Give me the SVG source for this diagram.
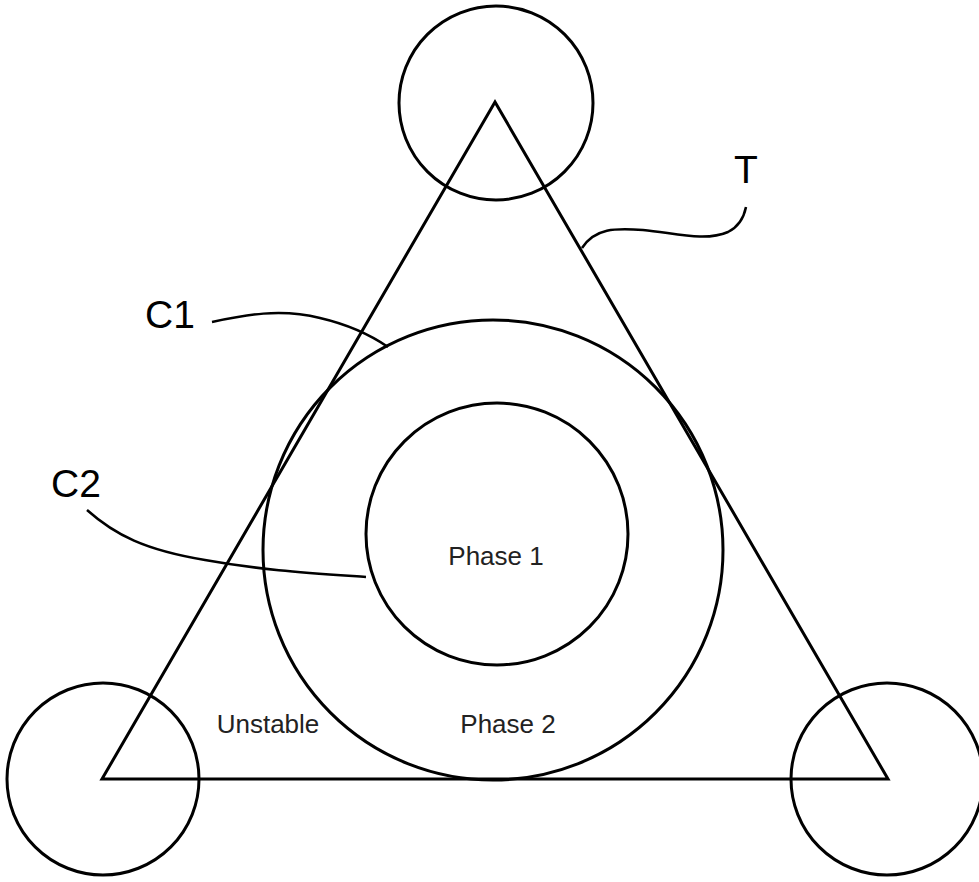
<svg xmlns="http://www.w3.org/2000/svg" width="979" height="882" viewBox="0 0 979 882">
<style>
.s{fill:none;stroke:#000;stroke-width:3}
.l{fill:none;stroke:#000;stroke-width:2.5}
.big{font-family:"Liberation Sans",Arial,sans-serif;font-size:39px;fill:#000}
.lab{font-family:"Liberation Sans",Arial,sans-serif;font-size:26px;fill:#222}
</style>
<rect width="979" height="882" fill="#fff"/>
<g id="triangle-T"><polygon class="s" points="495,102 102,779 888,779"/></g>
<g id="circle-top"><circle class="s" cx="496" cy="103" r="97"/></g>
<g id="circle-left"><circle class="s" cx="103" cy="779" r="96"/></g>
<g id="circle-right"><circle class="s" cx="887" cy="779" r="96"/></g>
<g id="circle-C1"><circle class="s" cx="493" cy="550" r="230"/></g>
<g id="circle-C2"><circle class="s" cx="497" cy="534" r="131"/>
<text class="lab" x="496" y="565" text-anchor="middle">Phase 1</text></g>
<g id="region-phase2"><text class="lab" x="508" y="733" text-anchor="middle">Phase 2</text></g>
<g id="region-unstable"><text class="lab" x="268" y="733" text-anchor="middle">Unstable</text></g>
<g id="label-T"><text class="big" x="746" y="183" text-anchor="middle">T</text></g>
<g id="label-C1"><text class="big" x="170" y="328" text-anchor="middle">C1</text></g>
<g id="label-C2"><text class="big" x="76" y="497" text-anchor="middle">C2</text></g>
<g id="connectors">
<path class="l" d="M582,248 C595,228 615,228 643,230 C675,233 705,242 728,232 C740,226 744,217 746,207"/>
<path class="l" d="M212,322 C245,315 280,308 320,318 C350,325 372,336 388,347"/>
<path class="l" d="M87,510 C115,535 145,550 205,560 C260,570 310,573 366,577"/>
</g>
</svg>
